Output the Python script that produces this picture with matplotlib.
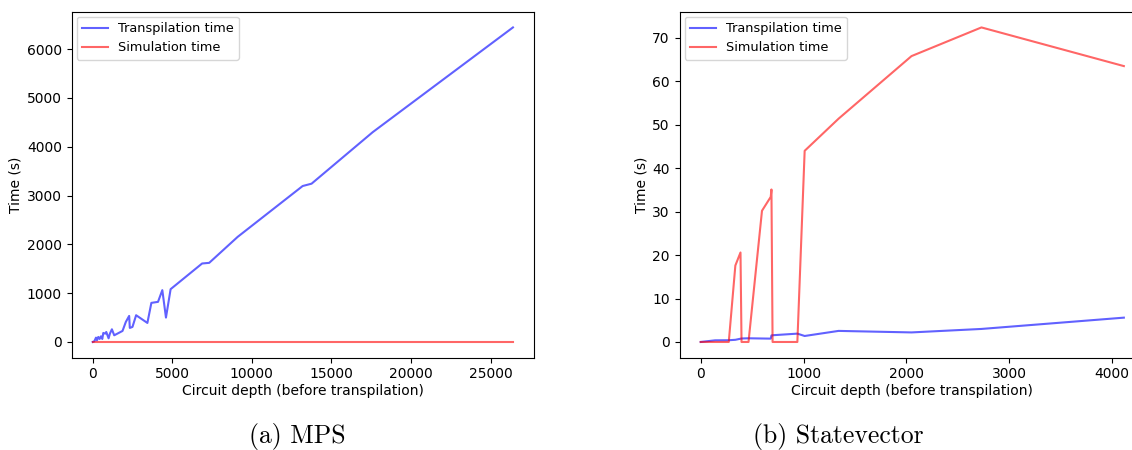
import matplotlib
matplotlib.use("Agg")
import matplotlib.pyplot as plt

# MPS backend: circuit depth vs time
mps_depth = [0, 104, 208, 270, 354, 437, 520, 604, 667, 792, 854, 1000, 1083, 1208, 1354,
             1875, 2083, 2292, 2333, 2500, 2729, 3437, 3687, 4104, 4375, 4604, 4896,
             6875, 7320, 9107, 13190, 13750, 17590, 26400]
mps_transpile = [0, 14, 89, 34, 103, 62, 116, 62, 185, 171, 205, 75, 171, 260, 137,
                 226, 411, 534, 288, 308, 548, 390, 801, 822, 1062, 500, 1082,
                 1608, 1621, 2153, 3195, 3243, 4298, 6444]
mps_simulate = [0] * len(mps_depth)

# Statevector backend
sv_depth = [0, 140, 273, 337, 387, 397, 465, 596, 681, 688, 699, 940, 1011, 1341,
            2050, 2730, 4115]
sv_transpile = [0, 0.38, 0.4, 0.5, 0.75, 0.8, 0.85, 0.8, 0.77, 1.5, 1.55, 1.92, 1.38,
                2.55, 2.2, 3.0, 5.6]
sv_simulate = [0, 0, 0, 17.6, 20.6, 0, 0, 30.2, 33.4, 35.1, 0, 0, 44.0, 51.4,
               65.8, 72.4, 63.5]

fig = plt.figure(figsize=(11.32, 4.5), dpi=100)
ax1 = fig.add_axes([0.0633, 0.2051, 0.4084, 0.7689])
ax2 = fig.add_axes([0.6003, 0.2051, 0.4112, 0.7689])

panels = [
    (ax1, mps_depth, mps_transpile, mps_simulate, "(a) MPS", 0.2625),
    (ax2, sv_depth, sv_transpile, sv_simulate, "(b) Statevector", 0.7405),
]

for ax, depth, tr, sim, caption, cx in panels:
    ax.plot(depth, tr, color="blue", alpha=0.62, lw=1.5, label="Transpilation time")
    ax.plot(depth, sim, color="red", alpha=0.6, lw=1.5, label="Simulation time")
    ax.set_xlabel("Circuit depth (before transpilation)", fontsize=10, labelpad=2)
    ax.set_ylabel("Time (s)", fontsize=10, labelpad=3)
    ax.tick_params(labelsize=10)
    ax.legend(loc="upper left", fontsize=9.3, borderaxespad=0.4)
    fig.text(cx, 0.016, caption, ha="center", va="baseline", fontsize=18.5,
             family="cmr10")

fig.savefig("out.png", dpi=100)
